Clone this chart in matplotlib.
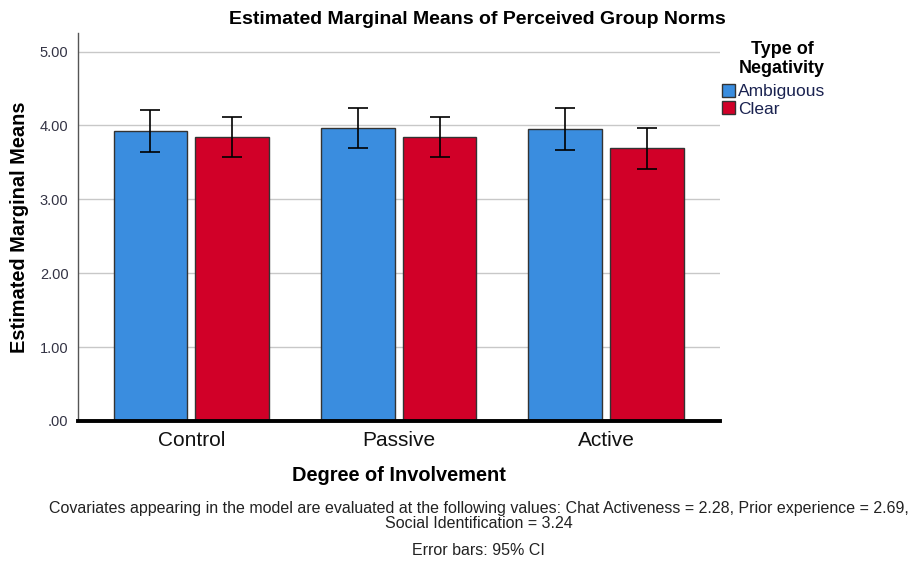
import numpy as np
import matplotlib
matplotlib.use("Agg")
import matplotlib.pyplot as plt

plt.rcParams["font.family"] = ["Liberation Sans", "DejaVu Sans"]

# Estimated marginal means
groups = ["Control", "Passive", "Active"]
series = ["Ambiguous", "Clear"]
ambiguous = [3.92, 3.97, 3.95]
clear = [3.85, 3.85, 3.69]
ambiguous_lo = [3.64, 3.70, 3.67]
ambiguous_hi = [4.21, 4.24, 4.23]
clear_lo = [3.58, 3.58, 3.41]
clear_hi = [4.12, 4.12, 3.97]
yticks = [0, 1, 2, 3, 4, 5]
ytick_labels = [".00", "1.00", "2.00", "3.00", "4.00", "5.00"]

blue = "#3a8ddf"
red = "#d10028"

fig = plt.figure(figsize=(9.21, 5.62), dpi=100)
ax = fig.add_axes([0.085, 0.251, 0.697, 0.69])

x = np.arange(len(groups))
w = 0.355
off = 0.197

amb = np.array(ambiguous)
clr = np.array(clear)
amb_err = [amb - np.array(ambiguous_lo), np.array(ambiguous_hi) - amb]
clr_err = [clr - np.array(clear_lo), np.array(clear_hi) - clr]

ax.bar(x - off, amb, w, color=blue, edgecolor="#333333", linewidth=1.0,
       label=series[0], zorder=3)
ax.bar(x + off, clr, w, color=red, edgecolor="#333333", linewidth=1.0,
       label=series[1], zorder=3)
ax.errorbar(x - off, amb, yerr=amb_err, fmt="none", ecolor="black",
            elinewidth=1.2, capsize=7.5, capthick=1.2, zorder=4)
ax.errorbar(x + off, clr, yerr=clr_err, fmt="none", ecolor="black",
            elinewidth=1.2, capsize=7.5, capthick=1.2, zorder=4)

ax.set_xlim(-0.545, 2.55)
ax.set_ylim(0, 5.25)
ax.set_yticks(yticks)
ax.set_yticklabels(ytick_labels, fontsize=10.5, color="#333344")
ax.set_xticks(x)
ax.set_xticklabels(groups, fontsize=15, color="#111111")
ax.tick_params(axis="x", length=0, pad=7)
ax.tick_params(axis="y", length=0, pad=7)
ax.yaxis.grid(True, color="#c8c8c8", linewidth=1.0, zorder=0)

for s in ["top", "right"]:
    ax.spines[s].set_visible(False)
ax.spines["left"].set_color("#555555")
ax.spines["left"].set_linewidth(1.0)
ax.spines["bottom"].set_color("black")
ax.spines["bottom"].set_linewidth(2.8)
ax.spines["bottom"].set_zorder(5)

ax.set_ylabel("Estimated Marginal Means", fontsize=14.4, fontweight="bold", labelpad=8)
ax.set_xlabel("Degree of Involvement", fontsize=14.4, fontweight="bold", labelpad=12)
fig.text(0.518, 0.965, "Estimated Marginal Means of Perceived Group Norms",
         ha="center", va="center", fontsize=14, fontweight="bold")

# legend title as separate text, centred like the original
fig.text(782 / 921, 1 - 59 / 562, "Type of\nNegativity", ha="center", va="center",
         fontsize=13, fontweight="bold", linespacing=1.15)
leg = ax.legend(loc="upper left", bbox_to_anchor=(1.002, 0.87), frameon=False,
                fontsize=12.5, handlelength=0.8, handleheight=0.8,
                handletextpad=0.15, labelspacing=0.1, borderaxespad=0.0,
                borderpad=0.0)
for t in leg.get_texts():
    t.set_color("#1a2250")

fig.text(0.52, 0.082,
         "Covariates appearing in the model are evaluated at the following values: "
         "Chat Activeness = 2.28, Prior experience = 2.69,\nSocial Identification = 3.24",
         ha="center", va="center", fontsize=11.5, color="#222222", linespacing=1.0)
fig.text(0.52, 0.02, "Error bars: 95% CI", ha="center", va="center",
         fontsize=11.5, color="#222222")

fig.savefig("out.png", dpi=100)
